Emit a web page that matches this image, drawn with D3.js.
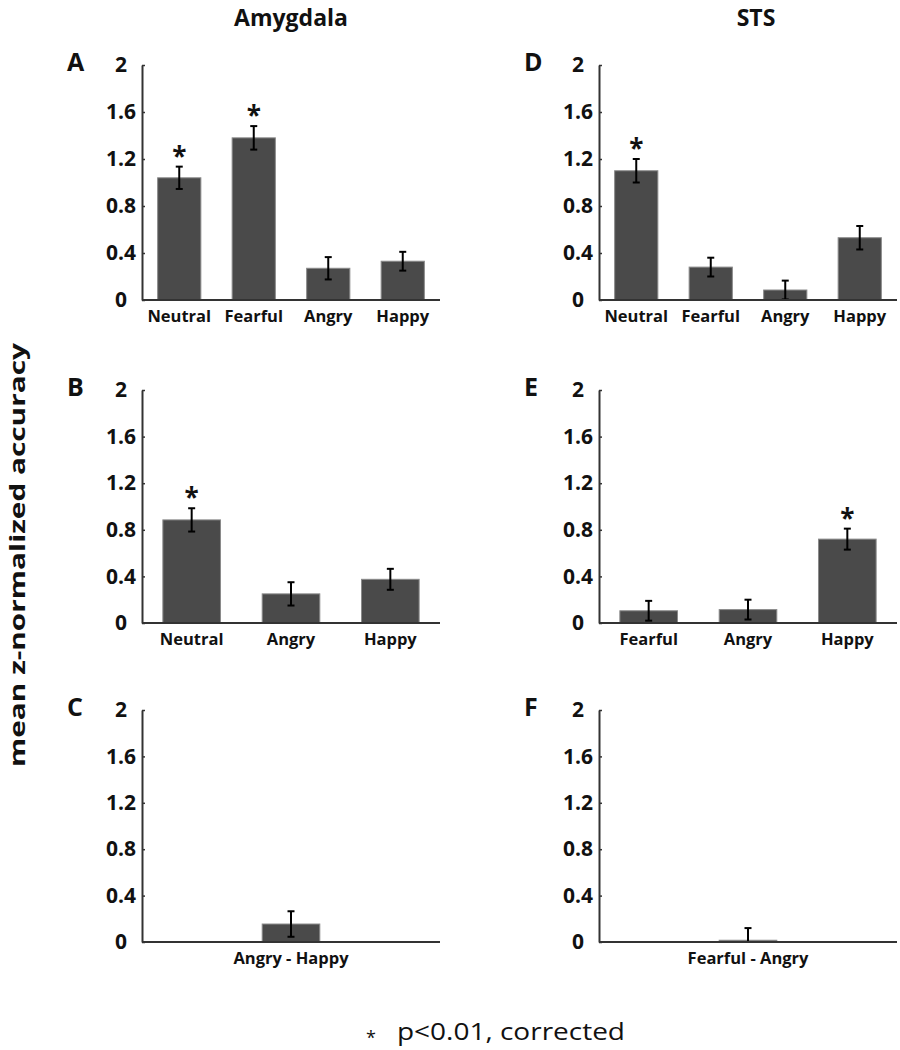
<!DOCTYPE html>
<html>
<head>
<meta charset="utf-8">
<script src="https://cdn.jsdelivr.net/npm/d3@7/dist/d3.min.js"></script>
<style>
  body { margin: 0; background: #fff; }
  svg { display: block; }
  text { font-family: "Open Sans", "DejaVu Sans", sans-serif; fill: #111; }
</style>
</head>
<body>
<svg id="chart" width="900" height="1050"></svg>
<script>
// ---------------- DATA ----------------
const columnTitles = ["Amygdala", "STS"];
const yTickValues = [0, 0.4, 0.8, 1.2, 1.6, 2];
const yTickLabels = ["0", "0.4", "0.8", "1.2", "1.6", "2"];
const yAxisLabel = "mean z-normalized accuracy";
const footnote = "p<0.01, corrected";

const panelA_cats = ["Neutral", "Fearful", "Angry", "Happy"];
const panelA_vals = [1.04, 1.38, 0.27, 0.33];
const panelA_err  = [0.095, 0.10, 0.095, 0.08];
const panelA_sig  = [true, true, false, false];

const panelB_cats = ["Neutral", "Angry", "Happy"];
const panelB_vals = [0.885, 0.25, 0.375];
const panelB_err  = [0.10, 0.10, 0.09];
const panelB_sig  = [true, false, false];

const panelC_cats = ["Angry - Happy"];
const panelC_vals = [0.155];
const panelC_err  = [0.11];
const panelC_sig  = [false];

const panelD_cats = ["Neutral", "Fearful", "Angry", "Happy"];
const panelD_vals = [1.10, 0.28, 0.085, 0.53];
const panelD_err  = [0.10, 0.08, 0.08, 0.10];
const panelD_sig  = [true, false, false, false];

const panelE_cats = ["Fearful", "Angry", "Happy"];
const panelE_vals = [0.105, 0.115, 0.72];
const panelE_err  = [0.085, 0.085, 0.09];
const panelE_sig  = [false, false, true];

const panelF_cats = ["Fearful - Angry"];
const panelF_vals = [0.015];
const panelF_err  = [0.105];
const panelF_sig  = [false];

// ---------------- LAYOUT ----------------
const svg = d3.select("#chart");
const colX = [142, 599];          // y-axis x position per column
const rowTop = [65, 390, 710];    // pixel y of value 2
const rowZero = [300, 623, 942];  // pixel y of value 0
const plotW = 298;

const panels = [
  { id: "A", col: 0, row: 0, cats: panelA_cats, vals: panelA_vals, err: panelA_err, sig: panelA_sig, slots: 4 },
  { id: "B", col: 0, row: 1, cats: panelB_cats, vals: panelB_vals, err: panelB_err, sig: panelB_sig, slots: 3 },
  { id: "C", col: 0, row: 2, cats: panelC_cats, vals: panelC_vals, err: panelC_err, sig: panelC_sig, slots: 3 },
  { id: "D", col: 1, row: 0, cats: panelD_cats, vals: panelD_vals, err: panelD_err, sig: panelD_sig, slots: 4 },
  { id: "E", col: 1, row: 1, cats: panelE_cats, vals: panelE_vals, err: panelE_err, sig: panelE_sig, slots: 3 },
  { id: "F", col: 1, row: 2, cats: panelF_cats, vals: panelF_vals, err: panelF_err, sig: panelF_sig, slots: 3 }
];

// column titles
columnTitles.forEach((t, i) => {
  svg.append("text")
    .attr("x", colX[i] + plotW / 2 + (i === 1 ? 8 : 0))
    .attr("y", 26)
    .attr("text-anchor", "middle")
    .attr("font-size", 23)
    .attr("font-weight", 700)
    .text(t);
});

// y-axis label
svg.append("text")
  .attr("transform", "translate(25,555) rotate(-90)")
  .attr("text-anchor", "middle")
  .attr("font-size", 22)
  .attr("font-weight", 700)
  .attr("textLength", 424)
  .attr("lengthAdjust", "spacingAndGlyphs")
  .text(yAxisLabel);

panels.forEach(p => {
  const x0 = colX[p.col];
  const g = svg.append("g");
  const y = d3.scaleLinear().domain([0, 2]).range([rowZero[p.row], rowTop[p.row]]);
  const pi = 0.42;
  const po = 0.21 + (p.slots - p.cats.length) / 2;
  const x = d3.scaleBand().domain(p.cats).range([x0, x0 + plotW])
    .paddingInner(pi).paddingOuter(po);

  // panel letter
  g.append("text")
    .attr("x", x0 - 75)
    .attr("y", rowTop[p.row] + 6)
    .attr("font-size", 25)
    .attr("font-weight", 700)
    .text(p.id);

  // bars
  const data = p.cats.map((c, i) => ({ c, v: p.vals[i], e: p.err[i], s: p.sig[i] }));
  g.selectAll("rect.bar").data(data).enter().append("rect")
    .attr("class", "bar")
    .attr("x", d => x(d.c))
    .attr("width", x.bandwidth())
    .attr("y", d => y(d.v))
    .attr("height", d => y(0) - y(d.v))
    .attr("fill", "#4a4a4a")
    .attr("stroke", "#8a8a8a")
    .attr("stroke-width", 1);

  // error bars
  const capW = 7;
  const eb = g.selectAll("g.err").data(data).enter().append("g").attr("class", "err")
    .attr("stroke", "#000").attr("stroke-width", 2);
  eb.append("line")
    .attr("x1", d => x(d.c) + x.bandwidth() / 2).attr("x2", d => x(d.c) + x.bandwidth() / 2)
    .attr("y1", d => y(d.v + d.e)).attr("y2", d => y(Math.max(0, d.v - d.e)));
  eb.append("line")
    .attr("x1", d => x(d.c) + x.bandwidth() / 2 - capW / 2).attr("x2", d => x(d.c) + x.bandwidth() / 2 + capW / 2)
    .attr("y1", d => y(d.v + d.e)).attr("y2", d => y(d.v + d.e));
  eb.append("line")
    .attr("x1", d => x(d.c) + x.bandwidth() / 2 - capW / 2).attr("x2", d => x(d.c) + x.bandwidth() / 2 + capW / 2)
    .attr("y1", d => y(Math.max(0, d.v - d.e))).attr("y2", d => y(Math.max(0, d.v - d.e)));

  // significance asterisks
  g.selectAll("text.sig").data(data.filter(d => d.s)).enter().append("text")
    .attr("class", "sig")
    .attr("x", d => x(d.c) + x.bandwidth() / 2)
    .attr("y", d => y(d.v + d.e) - 1)
    .attr("text-anchor", "middle")
    .attr("font-size", 26)
    .attr("font-weight", 700)
    .text("*");

  // y axis
  const yAxis = d3.axisLeft(y).tickValues(yTickValues)
    .tickFormat((d, i) => yTickLabels[i])
    .tickSizeInner(-3).tickSizeOuter(0).tickPadding(0);
  const ya = g.append("g").attr("transform", `translate(${x0},0)`).call(yAxis);
  ya.select(".domain").attr("stroke", "#333").attr("stroke-width", 2);
  ya.selectAll(".tick line").attr("stroke", "#333").attr("stroke-width", 1.5);
  ya.selectAll(".tick text")
    .attr("x", -21)
    .attr("text-anchor", "middle")
    .attr("font-size", 21)
    .attr("font-weight", 700)
    .attr("font-family", "'Open Sans', sans-serif")
    .attr("fill", "#111");

  // x baseline
  g.append("line")
    .attr("x1", x0).attr("x2", x0 + plotW)
    .attr("y1", y(0)).attr("y2", y(0))
    .attr("stroke", "#333").attr("stroke-width", 2);

  // category labels
  g.selectAll("text.cat").data(data).enter().append("text")
    .attr("class", "cat")
    .attr("x", d => x(d.c) + x.bandwidth() / 2)
    .attr("y", y(0) + 22)
    .attr("text-anchor", "middle")
    .attr("font-size", 16.5)
    .attr("font-weight", 700)
    .text(d => d.c);
});

// footnote
svg.append("text")
  .attr("x", 371).attr("y", 1044)
  .attr("text-anchor", "middle")
  .attr("font-size", 18)
  .text("*");
svg.append("text")
  .attr("x", 397).attr("y", 1040)
  .attr("font-size", 23)
  .attr("textLength", 228)
  .attr("lengthAdjust", "spacingAndGlyphs")
  .text(footnote);
</script>
</body>
</html>
